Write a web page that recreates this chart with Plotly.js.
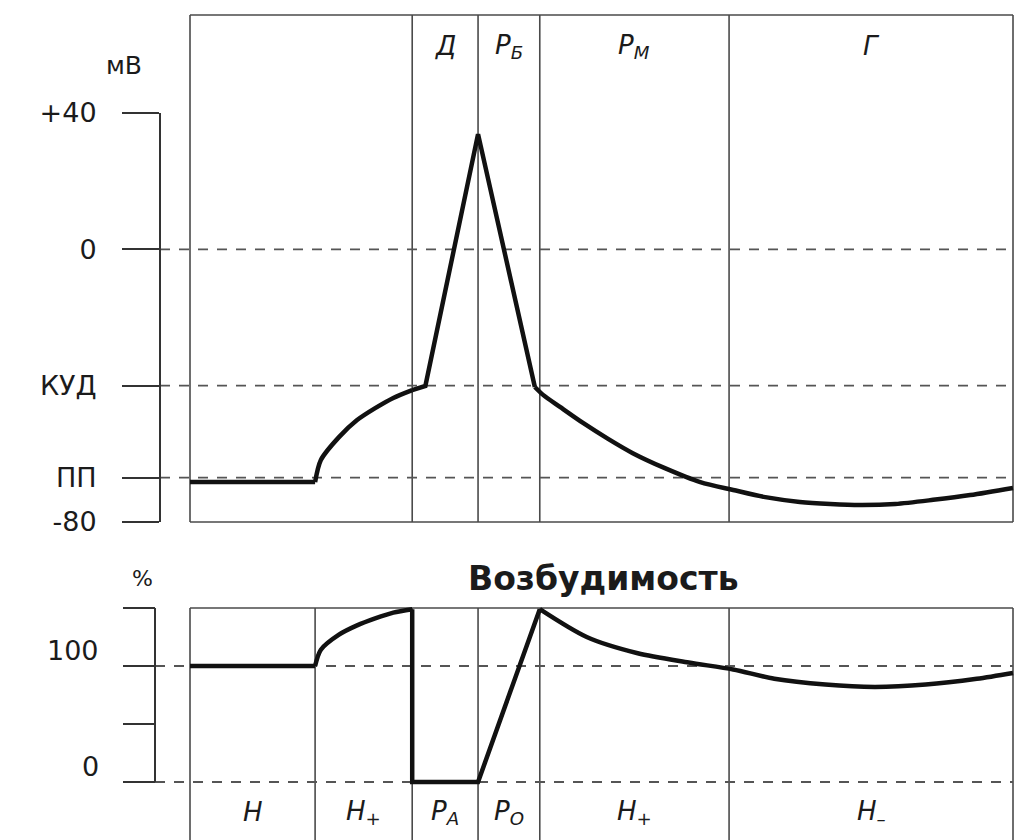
<!DOCTYPE html>
<html>
<head>
<meta charset="utf-8">
<script src="https://cdn.plot.ly/plotly-3.0.1.min.js"></script>
<style>html,body{margin:0;padding:0;background:#fff;}</style>
</head>
<body>
<div id="chart" style="width:1015px;height:840px;"></div>
<script>
// ---------- data ----------
const KUD = -40;   // критический уровень деполяризации, мВ
const PP = -67;    // потенциал покоя, мВ

const vmTickVals = [40, 0, KUD, PP, -80];
const vmTickText = ['+40', '0', 'КУД', 'ПП', '-80'];

const excTickVals = [0, 50, 100, 150];
const excTickText = ['0', '', '100', ''];

// time (arbitrary units, 0..100) and membrane potential (мВ)
const tVm = [0, 15.2, 15.9, 18.1, 20.3, 22.5, 24.7, 27.0, 28.6, 35.0, 41.9, 42.9, 45.0, 47.8, 50.8, 53.8, 57.7, 62.0, 66.0, 69.9, 74.1, 77.8, 81.4, 85.7, 90.3, 94.8, 100];
const vm  = [-68.3, -68.3, -61.8, -55.1, -50.1, -46.6, -43.6, -41.3, -40.1, 33.8, -40.4, -42.7, -46.3, -51.0, -55.6, -59.8, -64.2, -68.3, -70.6, -72.7, -74.1, -74.7, -75.0, -74.7, -73.5, -72.1, -70.0];

// time and excitability (%)
const tExc = [0, 15.2, 15.9, 18.1, 20.3, 22.5, 24.7, 27.0, 27.0, 35.0, 42.5, 48.2, 54.4, 60.6, 66.0, 71.0, 77.2, 83.2, 89.4, 95.6, 100];
const exc  = [100, 100, 114, 127, 135, 141, 146, 149, 0, 0, 149, 125, 111, 103, 97, 89, 84, 82, 84, 89, 94];

// phase boundaries and labels
const boundsTop = [0, 27.0, 35.0, 42.5, 65.5, 100];
const labelsTop = ['', '<i>Д</i>', '<i>Р<sub>Б</sub></i>', '<i>Р<sub>М</sub></i>', '<i>Г</i>'];
const boundsBottom = [0, 15.2, 27.0, 35.0, 42.5, 65.5, 100];
const labelsBottom = ['<i>Н</i>', '<i>Н<sub>+</sub></i>', '<i>Р<sub>А</sub></i>', '<i>Р<sub>О</sub></i>', '<i>Н<sub>+</sub></i>', '<i>Н<sub>–</sub></i>'];

const unitTop = 'мВ';
const unitBottom = '%';
const titleBottom = 'Возбудимость';

// ---------- layout geometry ----------
const W = 1015, H = 840;
const FRAME_L = 190, FRAME_R = 1013;
const T0 = boundsTop[0], T1 = boundsTop[boundsTop.length - 1];
const pxPerT = (FRAME_R - FRAME_L) / (T1 - T0);
const xRange = [T0 - FRAME_L / pxPerT, T0 + (W - FRAME_L) / pxPerT];
const pxX = px => T0 + (px - FRAME_L) / pxPerT;
const pY = py => 1 - py / H;

const Y1 = {top: 113, bot: 522, r: [-80, 40]};
const Y2 = {top: 608, bot: 782, r: [0, 150]};
const y2pxPer = (Y2.bot - Y2.top) / (Y2.r[1] - Y2.r[0]);
const y2pad = 15;
const y2Range = [Y2.r[0] - y2pad, Y2.r[1] + y2pad];
const y2Domain = [pY(Y2.bot + y2pad * y2pxPer), pY(Y2.top - y2pad * y2pxPer)];

const AX1_PX = 160, AX2_PX = 155;
const TOP_FRAME_PX = 15;

const FONT = 'DejaVu Sans, Liberation Sans, sans-serif';
const INK = '#1b1b1b';
const FRAME_COL = '#4a4a4a';

// ---------- shapes ----------
const shapes = [];
boundsTop.forEach(b => shapes.push({type: 'line', xref: 'x', yref: 'paper', x0: b, x1: b, y0: pY(Y1.bot), y1: pY(TOP_FRAME_PX), line: {color: FRAME_COL, width: 1.6}, layer: 'below'}));
shapes.push({type: 'line', xref: 'x', yref: 'paper', x0: T0, x1: T1, y0: pY(TOP_FRAME_PX), y1: pY(TOP_FRAME_PX), line: {color: FRAME_COL, width: 1.6}, layer: 'below'});
shapes.push({type: 'line', xref: 'x', yref: 'paper', x0: T0, x1: T1, y0: pY(Y1.bot), y1: pY(Y1.bot), line: {color: FRAME_COL, width: 1.6}, layer: 'below'});
[0, KUD, PP].forEach(v => shapes.push({type: 'line', xref: 'x', yref: 'y', x0: pxX(AX1_PX), x1: T1, y0: v, y1: v, line: {color: '#555', width: 1.8, dash: '10px,9px'}, layer: 'below'}));
boundsBottom.forEach(b => shapes.push({type: 'line', xref: 'x', yref: 'paper', x0: b, x1: b, y0: 0, y1: pY(Y2.top), line: {color: FRAME_COL, width: 1.6}, layer: 'below'}));
shapes.push({type: 'line', xref: 'x', yref: 'paper', x0: T0, x1: T1, y0: pY(Y2.top), y1: pY(Y2.top), line: {color: FRAME_COL, width: 1.6}, layer: 'below'});
[100, 0].forEach(v => shapes.push({type: 'line', xref: 'x', yref: 'y2', x0: pxX(AX2_PX), x1: T1, y0: v, y1: v, line: {color: '#555', width: 1.8, dash: '10px,9px'}, layer: 'below'}));
shapes.push({type: 'line', xref: 'paper', yref: 'y2', x0: AX2_PX / W, x1: AX2_PX / W, y0: Y2.r[0], y1: Y2.r[1], line: {color: '#333', width: 2}});

// ---------- annotations ----------
const annotations = [];
const mids = b => b.slice(0, -1).map((v, i) => (v + b[i + 1]) / 2);
mids(boundsTop).forEach((m, i) => {
  if (labelsTop[i]) annotations.push({xref: 'x', yref: 'paper', x: m, y: pY(46), text: labelsTop[i], showarrow: false, xanchor: 'center', yanchor: 'middle', font: {family: FONT, size: 26, color: INK}});
});
mids(boundsBottom).forEach((m, i) => {
  if (labelsBottom[i]) annotations.push({xref: 'x', yref: 'paper', x: m, y: pY(812), text: labelsBottom[i], showarrow: false, xanchor: 'center', yanchor: 'middle', font: {family: FONT, size: 26, color: INK}});
});
annotations.push({xref: 'paper', yref: 'paper', x: 124 / W, y: pY(66), text: unitTop, showarrow: false, xanchor: 'center', yanchor: 'middle', font: {family: FONT, size: 25, color: INK}});
annotations.push({xref: 'paper', yref: 'paper', x: 142 / W, y: pY(578), text: unitBottom, showarrow: false, xanchor: 'center', yanchor: 'middle', font: {family: FONT, size: 22, color: INK}});
annotations.push({xref: 'paper', yref: 'paper', x: 603 / W, y: pY(578), text: '<b>' + titleBottom + '</b>', showarrow: false, xanchor: 'center', yanchor: 'middle', font: {family: FONT, size: 33, color: INK}});
excTickVals.forEach((v, i) => {
  if (excTickText[i]) annotations.push({xref: 'paper', yref: 'y2', x: 101 / W, y: v, yshift: 16, text: excTickText[i], showarrow: false, xanchor: 'right', yanchor: 'middle', font: {family: FONT, size: 27, color: INK}});
});

// ---------- traces (one series each, drawn in straight and smooth pieces) ----------
const LINE = {color: '#111', width: 4.5};
function pieces(xs, ys, yaxis, cuts, smooth) {
  const out = [];
  for (let k = 0; k < cuts.length - 1; k++) {
    const a = cuts[k], b = cuts[k + 1];
    out.push({
      x: xs.slice(a, b + 1), y: ys.slice(a, b + 1), type: 'scatter', mode: 'lines',
      xaxis: 'x', yaxis: yaxis, hoverinfo: 'skip',
      line: Object.assign({}, LINE, smooth[k] ? {shape: 'spline', smoothing: 0.8} : {shape: 'linear'})
    });
  }
  return out;
}
const traces = [].concat(
  pieces(tVm, vm, 'y', [0, 1, 7, 10, tVm.length - 1], [false, true, false, true]),
  pieces(tExc, exc, 'y2', [0, 1, 7, 10, tExc.length - 1], [false, true, false, true])
);

const layout = {
  width: W, height: H,
  margin: {l: 0, r: 0, t: 0, b: 0, pad: 0},
  paper_bgcolor: '#fff', plot_bgcolor: 'rgba(0,0,0,0)',
  showlegend: false,
  xaxis: {domain: [0, 1], range: xRange, visible: false, fixedrange: true},
  yaxis: {
    domain: [pY(Y1.bot), pY(Y1.top)], range: Y1.r, anchor: 'free', position: AX1_PX / W,
    showline: true, linecolor: '#333', linewidth: 2,
    ticks: 'outside', ticklen: 37, tickwidth: 2, tickcolor: '#333',
    tickmode: 'array', tickvals: vmTickVals, ticktext: vmTickText,
    ticklabelstandoff: 20,
    tickfont: {family: FONT, size: 27, color: INK},
    showgrid: false, zeroline: false, fixedrange: true
  },
  yaxis2: {
    domain: y2Domain, range: y2Range, anchor: 'free', position: AX2_PX / W,
    showline: false,
    ticks: 'outside', ticklen: 32, tickwidth: 2, tickcolor: '#333',
    tickmode: 'array', tickvals: excTickVals, showticklabels: false,
    showgrid: false, zeroline: false, fixedrange: true
  },
  shapes: shapes,
  annotations: annotations
};

Plotly.newPlot('chart', traces, layout, {staticPlot: true, displayModeBar: false});
</script>
</body>
</html>
